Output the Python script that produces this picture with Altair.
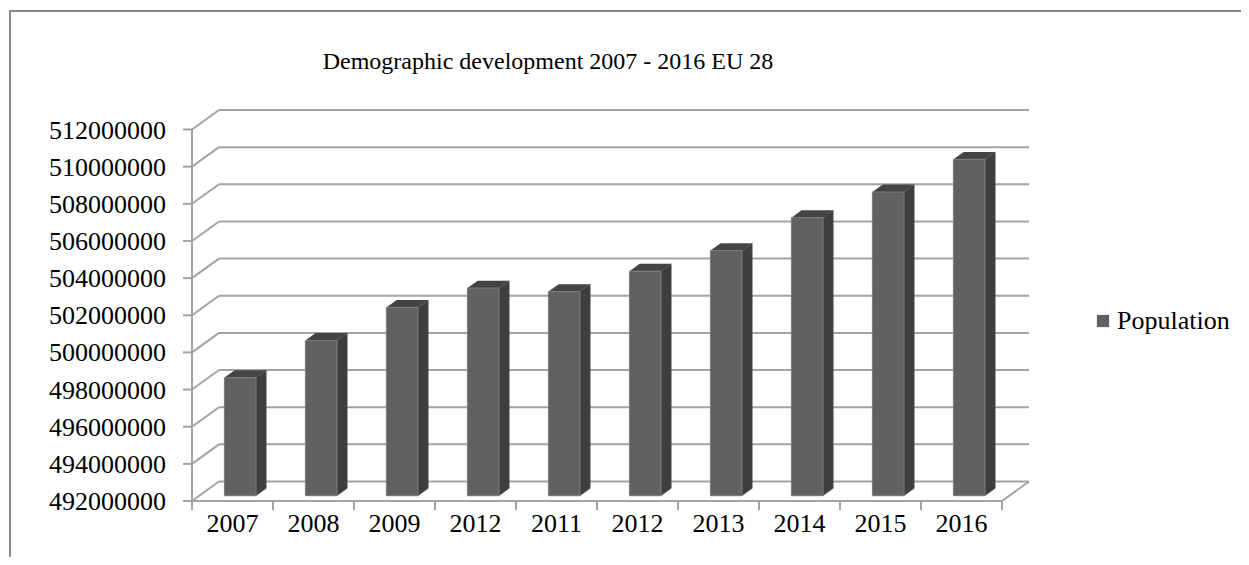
import altair as alt
import pandas as pd

# ---------------- data ----------------
years = ['2007', '2008', '2009', '2012', '2011', '2012', '2013', '2014', '2015', '2016']
population = [498360000, 500360000, 502140000, 503180000, 502990000,
              504090000, 505200000, 506970000, 508350000, 510110000]
y_ticks = [492000000, 494000000, 496000000, 498000000, 500000000, 502000000,
           504000000, 506000000, 508000000, 510000000, 512000000]
series_name = 'Population'
title_text = 'Demographic development 2007 - 2016 EU 28'

# ---------------- 3-D look geometry ----------------
N = len(years)
Y0, Y1 = y_ticks[0], y_ticks[-1]
DX = 1 / 3          # depth of the box along x (category units)
DY = 1.05e6         # depth of the box along y (data units)
F1, F2 = 0.27, 0.65  # front / back of the columns inside the depth
BAR_LO, BAR_HI = 0.31, 0.70
W, H = 837, 391

FONT = 'Liberation Serif'
GRID = '#a3a3a3'
FRONT, SIDE, TOP = '#616161', '#3e3e3e', '#444444'

xs = alt.Scale(domain=[0, N + DX], nice=False, zero=False)
ys = alt.Scale(domain=[Y0, Y1 + DY], nice=False, zero=False)

# ---------------- tables ----------------
grid = pd.DataFrame({'v': y_ticks})
grid['label'] = grid['v'].map(lambda v: f'{v:d}')
grid['yb'] = grid['v'] + DY
grid['xf'] = 0.0
grid['x0'] = DX
grid['x1'] = N + DX

floor = pd.DataFrame({'x': [N], 'x2': [N + DX], 'y': [Y0], 'y2': [Y0 + DY]})
front = pd.DataFrame({'x': [0.0], 'x2': [float(N)], 'y': [Y0], 'y2': [Y1]})

cats = pd.DataFrame({'i': list(range(N + 1))})
cats['y'] = Y0

idx = list(range(N))
bars = pd.DataFrame({'i': idx, 'year': years, 'value': population, 'series': series_name})
bars['xc'] = bars['i'] + 0.5
bars['y0'] = Y0
bars['xl'] = bars['i'] + BAR_LO + F1 * DX
bars['xr'] = bars['i'] + BAR_HI + F1 * DX
bars['yt'] = bars['value'] + F1 * DY
bars['yb'] = Y0 + F1 * DY

side_rows, top_rows = [], []
for i, v in zip(idx, population):
    for f in (F1, F2):
        side_rows.append({'i': i, 'x': i + BAR_HI + f * DX, 'top': v + f * DY, 'base': Y0 + f * DY})
        top_rows.append({'i': i, 'y': v + f * DY, 'xl': i + BAR_LO + f * DX, 'xr': i + BAR_HI + f * DX})
side = pd.DataFrame(side_rows)
topf = pd.DataFrame(top_rows)

one = pd.DataFrame({'k': [0]})
title_df = pd.DataFrame({'t': [title_text]})

# ---------------- layers ----------------
back_grid = alt.Chart(grid).mark_rule(color=GRID, strokeWidth=2).encode(
    x=alt.X('x0:Q', scale=xs, axis=None), x2='x1:Q',
    y=alt.Y('yb:Q', scale=ys, axis=None))

diag = alt.Chart(grid).mark_rule(color=GRID, strokeWidth=2).encode(
    x=alt.X('xf:Q', scale=xs, axis=None), x2='x0:Q',
    y=alt.Y('v:Q', scale=ys, axis=None), y2='yb:Q')

y_tick_marks = alt.Chart(grid).mark_rule(color=GRID, strokeWidth=2, x2Offset=-9).encode(
    x=alt.X('xf:Q', scale=xs, axis=None), x2='xf:Q',
    y=alt.Y('v:Q', scale=ys, axis=None))

y_labels = alt.Chart(grid).mark_text(font=FONT, fontSize=26, color='black', align='right',
                                     baseline='alphabetic', dx=-26, dy=9).encode(
    x=alt.X('xf:Q', scale=xs, axis=None),
    y=alt.Y('v:Q', scale=ys, axis=None),
    text='label:N')

floor_diag = alt.Chart(floor).mark_rule(color=GRID, strokeWidth=2).encode(
    x=alt.X('x:Q', scale=xs, axis=None), x2='x2:Q',
    y=alt.Y('y:Q', scale=ys, axis=None), y2='y2:Q')

y_line = alt.Chart(front).mark_rule(color=GRID, strokeWidth=2).encode(
    x=alt.X('x:Q', scale=xs, axis=None),
    y=alt.Y('y:Q', scale=ys, axis=None), y2='y2:Q')

x_line = alt.Chart(front).mark_rule(color=GRID, strokeWidth=2).encode(
    x=alt.X('x:Q', scale=xs, axis=None), x2='x2:Q',
    y=alt.Y('y:Q', scale=ys, axis=None))

x_tick_marks = alt.Chart(cats).mark_rule(color=GRID, strokeWidth=2, y2Offset=9).encode(
    x=alt.X('i:Q', scale=xs, axis=None),
    y=alt.Y('y:Q', scale=ys, axis=None), y2='y:Q')

x_labels = alt.Chart(bars).mark_text(font=FONT, fontSize=26, color='black', align='center',
                                     baseline='alphabetic', dy=31).encode(
    x=alt.X('xc:Q', scale=xs, axis=None),
    y=alt.Y('y0:Q', scale=ys, axis=None),
    text='year:N')

front_face = alt.Chart(bars).mark_rect(stroke='#7c7c7c', strokeWidth=1).encode(
    x=alt.X('xl:Q', scale=xs, axis=None), x2='xr:Q',
    y=alt.Y('yt:Q', scale=ys, axis=None), y2='yb:Q',
    color=alt.Color('series:N', scale=alt.Scale(domain=[series_name], range=[FRONT]),
                    legend=alt.Legend(title=None, orient='none', legendX=898, legendY=198,
                                      symbolType='square', symbolSize=150,
                                      symbolStrokeWidth=0, labelFont=FONT,
                                      labelFontSize=26, labelColor='black',
                                      labelOffset=1, padding=0)))

side_face = alt.Chart(side).mark_area(color=SIDE, stroke='#555555', strokeWidth=0.5).encode(
    x=alt.X('x:Q', scale=xs, axis=None),
    y=alt.Y('top:Q', scale=ys, axis=None, stack=None), y2='base:Q',
    detail='i:N')

top_face = alt.Chart(topf).mark_area(orient='horizontal', color=TOP).encode(
    y=alt.Y('y:Q', scale=ys, axis=None),
    x=alt.X('xl:Q', scale=xs, axis=None, stack=None), x2='xr:Q',
    detail='i:N')

title_mark = alt.Chart(title_df).mark_text(font=FONT, fontSize=24, color='black',
                                           align='center', baseline='alphabetic').encode(
    x=alt.value(356), y=alt.value(-41.5), text='t:N')

frame_top = alt.Chart(one).mark_rule(color='#8a8a8a', strokeWidth=2).encode(
    x=alt.value(-183), x2=alt.value(W + 220), y=alt.value(-99))
frame_left = alt.Chart(one).mark_rule(color='#8a8a8a', strokeWidth=2).encode(
    x=alt.value(-182), y=alt.value(-100), y2=alt.value(H + 60))

chart = alt.layer(
    frame_top, frame_left, title_mark, back_grid, diag, floor_diag, y_line, x_line,
    y_tick_marks, x_tick_marks, y_labels, x_labels, side_face, top_face, front_face
).properties(
    width=W, height=H,
    autosize=alt.AutoSizeParams(type='none'),
    padding={'left': 184, 'top': 102, 'right': 212, 'bottom': 56},
    view=alt.ViewBackground(stroke='transparent', strokeWidth=0),
).configure_view(stroke='transparent', strokeWidth=0).configure(background='white')

chart.save('out.html', embed_options={'renderer': 'svg', 'actions': False})
